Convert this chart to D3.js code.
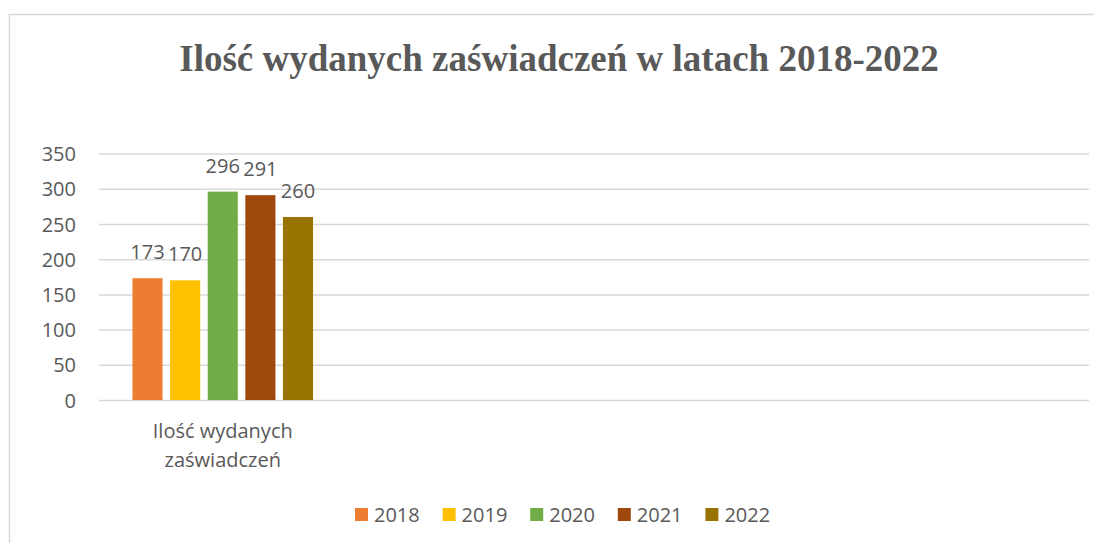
<!DOCTYPE html>
<html>
<head>
<meta charset="utf-8">
<script src="https://cdn.jsdelivr.net/npm/d3@7"></script>
<style>
  body { margin: 0; background: #fff; }
  text { font-family: "Open Sans", sans-serif; fill: #595959; }
</style>
</head>
<body>
<div id="chart"></div>
<script>
// data
var categories = ["Ilość wydanych zaświadczeń", "", "", ""];
var years = ["2018", "2019", "2020", "2021", "2022"];
var values = [173, 170, 296, 291, 260];
var colors = ["#ED7D31", "#FFC000", "#70AD47", "#9E480E", "#997300"];
var yTicks = [0, 50, 100, 150, 200, 250, 300, 350];

var W = 1094, H = 543;
var plot = { left: 99, right: 1089, top: 153.6, bottom: 400 };

var svg = d3.select("#chart").append("svg")
      .attr("width", W)
      .attr("height", H);

// chart border (only top and left visible in the picture)
svg.append("rect")
      .attr("x", 9.5).attr("y", 14.5)
      .attr("width", W + 10).attr("height", H + 10)
      .attr("fill", "none")
      .attr("stroke", "#d9d9d9")
      .attr("stroke-width", 1.5);

svg.append("text")
      .attr("x", 559).attr("y", 71)
      .attr("text-anchor", "middle")
      .style("font-family", "'Liberation Serif', 'Times New Roman', serif")
      .style("font-weight", "bold")
      .style("font-size", "37px")
      .text("Ilość wydanych zaświadczeń w latach 2018-2022");

var y = d3.scaleLinear()
      .domain([0, 350])
      .range([plot.bottom, plot.top]);

var x0 = d3.scaleBand()
      .domain(d3.range(categories.length))
      .range([plot.left, plot.right])
      .paddingInner(0.24)
      .paddingOuter(0.12);

var x1 = d3.scaleBand()
      .domain(years)
      .range([0, x0.bandwidth()])
      .paddingInner(0.2)
      .paddingOuter(0.1);

// gridlines + tick labels
var yAxis = svg.append("g")
      .attr("transform", "translate(" + plot.left + ",0)")
      .call(d3.axisLeft(y).tickValues(yTicks).tickSize(-(plot.right - plot.left)).tickPadding(23));
yAxis.select(".domain").remove();
yAxis.selectAll(".tick line").attr("stroke", "#d9d9d9").attr("stroke-width", 1.5);
yAxis.selectAll(".tick text")
      .attr("fill", "#595959")
      .style("font-family", "'Open Sans', sans-serif")
      .style("font-size", "20px")
      .attr("dy", "0.35em");

// bars
var grp = svg.append("g").attr("transform", "translate(" + x0(0) + ",0)");
grp.selectAll("rect")
      .data(values)
      .join("rect")
      .attr("x", (d, i) => x1(years[i]))
      .attr("y", d => y(d))
      .attr("width", x1.bandwidth())
      .attr("height", d => y(0) - y(d))
      .attr("fill", (d, i) => colors[i]);

grp.selectAll("text.lbl")
      .data(values)
      .join("text")
      .attr("class", "lbl")
      .attr("x", (d, i) => x1(years[i]) + x1.bandwidth() / 2)
      .attr("y", d => y(d) - 19)
      .attr("text-anchor", "middle")
      .style("font-size", "20px")
      .text(d => d);

// category label
var cx = x0(0) + x0.bandwidth() / 2;
var cat = svg.append("text")
      .attr("x", cx)
      .attr("y", 438)
      .attr("text-anchor", "middle")
      .style("font-size", "20px");
cat.append("tspan").attr("x", cx).text("Ilość wydanych");
cat.append("tspan").attr("x", cx).attr("dy", 29).text("zaświadczeń");

// legend
var legend = svg.append("g").attr("transform", "translate(355,508)");
var item = legend.selectAll("g")
      .data(years)
      .join("g")
      .attr("transform", (d, i) => "translate(" + (i * 87.6) + ",0)");
item.append("rect")
      .attr("width", 13).attr("height", 13)
      .attr("fill", (d, i) => colors[i]);
item.append("text")
      .attr("x", 19).attr("y", 14)
      .style("font-size", "20px")
      .text(d => d);
</script>
</body>
</html>
